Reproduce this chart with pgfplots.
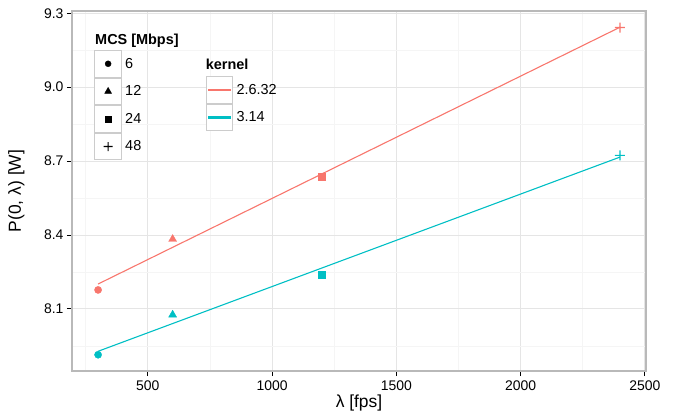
\documentclass[border=0pt]{standalone}
\usepackage{pgfplots}
\pgfplotsset{compat=1.18}
\usepackage{fontspec}
\setmainfont{Liberation Sans}

\definecolor{ggred}{RGB}{248,118,109}
\definecolor{ggcyan}{RGB}{0,191,196}
\definecolor{gridmaj}{RGB}{229,229,229}
\definecolor{gridmin}{RGB}{245,245,245}
\definecolor{keyborder}{RGB}{204,204,204}

% filled plus, so that it takes the fill colour like the other marks
\pgfdeclareplotmark{fplus}{%
  \pgfpathrectangle{\pgfpoint{-\pgfplotmarksize}{-0.6bp}}{\pgfpoint{2\pgfplotmarksize}{1.2bp}}%
  \pgfpathrectangle{\pgfpoint{-0.6bp}{-\pgfplotmarksize}}{\pgfpoint{1.2bp}{2\pgfplotmarksize}}%
  \pgfusepathqfill}

\pgfplotsset{
  panel/.style={
    scale only axis, width=574bp, height=360bp,
    at={(72bp,48bp)}, anchor=south west,
    xmin=195, xmax=2505, ymin=7.848, ymax=9.309,
  },
  boxkey/.style={legend image code/.code={
    \draw[keyborder, line width=0.9bp, fill=white] (0bp,-13.35bp) rectangle (26.7bp,13.35bp);
    \draw[##1, black] plot coordinates {(13.35bp,0bp)};
  }},
  linekey/.style={legend image code/.code={
    \draw[keyborder, line width=0.9bp, fill=white] (0bp,-13.35bp) rectangle (26.7bp,13.35bp);
    \fill[fill=#1] (2.5bp,-0.55bp) rectangle (24.2bp,0.55bp);
  }},
  keylegend/.style={
    draw=none, fill=none, inner sep=0pt, outer sep=0pt,
    row sep=0pt, column sep=3.3bp, anchor=north west,
    nodes={inner sep=0pt, font=\fontsize{14.5}{16}\selectfont},
  },
}

\begin{document}
\begin{tikzpicture}
\useasboundingbox (0,0) rectangle (673bp,419bp);
\begin{axis}[
  panel,
  axis line style={draw=gray!55, line width=1.1bp},
  xtick={500,1000,1500,2000,2500},
  ytick={8.1,8.4,8.7,9.0,9.3},
  minor xtick={250,750,1250,1750,2250},
  minor ytick={7.95,8.25,8.55,8.85,9.15},
  grid=both,
  major grid style={gridmaj, line width=0.9bp},
  minor grid style={gridmin, line width=0.6bp},
  tick align=outside,
  xtick pos=bottom, ytick pos=left,
  major tick length=5bp, minor tick length=0pt,
  tick style={black, line width=0.9bp},
  tick label style={font=\fontsize{14}{16}\selectfont, black},
  /pgf/number format/assume math mode=true,
  xticklabel style={/pgf/number format/1000 sep={}, yshift=-1bp},
  yticklabel style={/pgf/number format/.cd, fixed, fixed zerofill, precision=1},
  xlabel={λ [fps]},
  ylabel={P(0, λ) [W]},
  every axis x label/.style={at={(axis description cs:0.5,-0.1)}, anchor=base,
    font=\fontsize{17.5}{20}\selectfont},
  every axis y label/.style={at={(axis description cs:-0.0767,0.5)}, anchor=south, rotate=90,
    font=\fontsize{17.5}{20}\selectfont},
  legend style={keylegend, at={(axis description cs:0.2329,0.8194)}},
  legend cell align=left,
]
% kernel 2.6.32
\addplot[only marks, color=ggred, mark=*, mark size=3.6bp, forget plot] coordinates {(300,8.177)};
\addplot[only marks, color=ggred, mark=triangle*, mark size=4.6bp, forget plot] coordinates {(600,8.383)};
\addplot[only marks, color=ggred, mark=square*, mark size=3.4bp, forget plot] coordinates {(1200,8.638)};
\addplot[only marks, color=ggred, mark=fplus, mark size=5bp, forget plot] coordinates {(2400,9.242)};
% kernel 3.14
\addplot[only marks, color=ggcyan, mark=*, mark size=3.6bp, forget plot] coordinates {(300,7.914)};
\addplot[only marks, color=ggcyan, mark=triangle*, mark size=4.6bp, forget plot] coordinates {(600,8.076)};
\addplot[only marks, color=ggcyan, mark=square*, mark size=3.4bp, forget plot] coordinates {(1200,8.238)};
\addplot[only marks, color=ggcyan, mark=fplus, mark size=5bp, forget plot] coordinates {(2400,8.723)};
% linear fits
\addplot[linekey=ggred, color=ggred, line width=1.1bp, no marks] coordinates {(300,8.201) (2400,9.243)};
\addlegendentry{2.6.32}
\addplot[linekey=ggcyan, color=ggcyan, line width=1.1bp, no marks] coordinates {(300,7.928) (2400,8.716)};
\addlegendentry{3.14}
\node[anchor=base west, inner sep=0pt, font=\fontsize{14.5}{16}\selectfont\bfseries]
  at (axis description cs:0.2329,0.8361) {kernel};
\node[anchor=base west, inner sep=0pt, font=\fontsize{14.5}{16}\selectfont\bfseries]
  at (axis description cs:0.0401,0.9083) {MCS [Mbps]};
\end{axis}
\begin{axis}[
  panel, hide axis,
  legend style={keylegend, at={(axis description cs:0.0389,0.8917)}},
  legend cell align=left,
]
\addlegendimage{boxkey, only marks, mark=*, mark size=3bp}
\addlegendentry{6}
\addlegendimage{boxkey, only marks, mark=triangle*, mark size=4bp}
\addlegendentry{12}
\addlegendimage{boxkey, only marks, mark=square*, mark size=2.8bp}
\addlegendentry{24}
\addlegendimage{boxkey, only marks, mark=fplus, mark size=4.5bp}
\addlegendentry{48}
\end{axis}
\end{tikzpicture}
\end{document}
